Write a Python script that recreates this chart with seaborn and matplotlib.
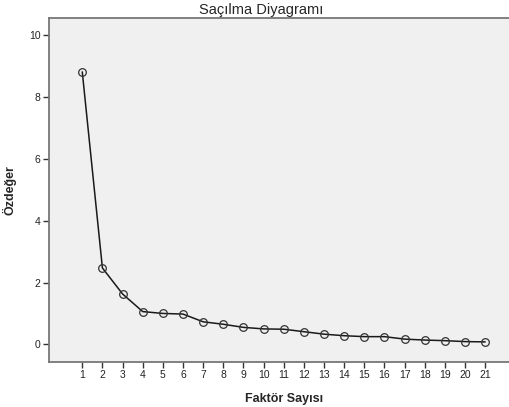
import matplotlib
matplotlib.use('Agg')
import matplotlib.pyplot as plt
import seaborn as sns
import pandas as pd

# Data
factors = list(range(1, 22))
eigenvalues = [8.81, 2.47, 1.63, 1.06, 1.00, 0.98, 0.73, 0.65, 0.55, 0.50,
               0.49, 0.41, 0.33, 0.28, 0.25, 0.25, 0.17, 0.14, 0.12, 0.09, 0.08]
y_ticks = [0, 2, 4, 6, 8, 10]

title = 'Saçılma Diyagramı'
x_label = 'Faktör Sayısı'
y_label = 'Özdeğer'

sns.set_style('white')
plt.rcParams['font.family'] = ['Liberation Sans', 'DejaVu Sans']

df = pd.DataFrame({'factor': factors, 'eigen': eigenvalues})

fig = plt.figure(figsize=(5.09, 4.07), dpi=100)
ax = fig.add_axes([0.0963, 0.1113, 0.9037, 0.8452])
ax.set_facecolor('#f0f0f0')

sns.lineplot(data=df, x='factor', y='eigen', ax=ax, color='#1a1a1a',
             linewidth=1.1, marker='o', markersize=5.5,
             markerfacecolor='none', markeredgecolor='#333333',
             markeredgewidth=0.9)

ax.set_xlim(-0.65, 22.18)
ax.set_ylim(-0.56, 10.56)
ax.set_xticks(factors)
ax.set_yticks(y_ticks)
ax.tick_params(axis='both', direction='out', length=4, width=1,
               color='#333333', labelcolor='#222222', labelsize=7.5,
               pad=2, bottom=True, left=True)

for side in ['left', 'bottom', 'top']:
    ax.spines[side].set_color('#777777')
    ax.spines[side].set_linewidth(1.3)
ax.spines['right'].set_visible(False)

ax.set_title(title, fontsize=10.5, x=0.461, pad=3)
ax.set_xlabel(x_label, fontsize=9, fontweight='bold')
ax.set_ylabel(y_label, fontsize=9, fontweight='bold')
ax.xaxis.set_label_coords(0.511, -0.092)
ax.yaxis.set_label_coords(-0.07, 0.5)

fig.savefig('out.png', dpi=100)
